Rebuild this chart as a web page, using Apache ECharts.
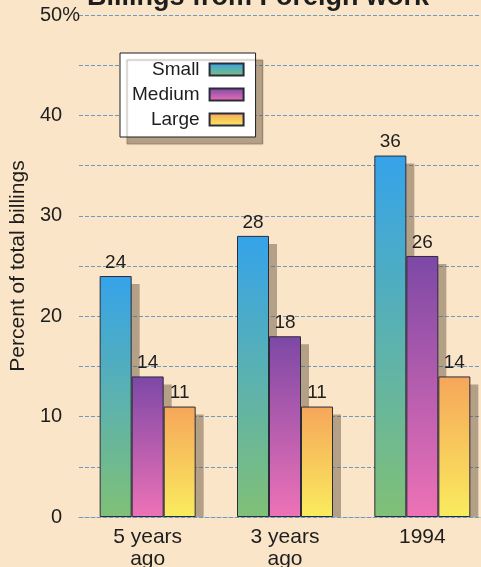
<!DOCTYPE html>
<html>
<head>
<meta charset="utf-8">
<script src="https://cdn.jsdelivr.net/npm/echarts@6/dist/echarts.min.js"></script>
<style>
  html, body { margin: 0; padding: 0; background: #fbe5c8; }
  #chart { width: 481px; height: 567px; }
</style>
</head>
<body>
<div id="chart"></div>
<script>
var categories = ['5 years\nago', '3 years\nago', '1994'];
var smallData = [24, 28, 36];
var mediumData = [14, 18, 26];
var largeData = [11, 11, 14];
var seriesNames = ['Small', 'Medium', 'Large'];

var font = 'Liberation Sans, Arial, Helvetica, sans-serif';
var BAR_W = 32;

function grad(top, bottom) {
  return new echarts.graphic.LinearGradient(0, 0, 0, 1, [
    { offset: 0, color: top },
    { offset: 1, color: bottom }
  ]);
}

function barSeries(name, data, top, bottom) {
  return {
    name: name,
    type: 'bar',
    data: data,
    z: 3,
    barWidth: BAR_W,
    barGap: '0%',
    itemStyle: {
      color: grad(top, bottom),
      borderColor: '#2b2b3a',
      borderWidth: 1
    },
    label: {
      show: true,
      position: 'top',
      distance: 4,
      fontSize: 19,
      fontFamily: font,
      color: '#1e1e1e'
    }
  };
}

// drop shadow behind each bar, placed from the same axis scales
function shadowSeries(data, k) {
  return {
    type: 'custom',
    z: 1,
    silent: true,
    data: data.map(function (v, i) { return [i, v]; }),
    renderItem: function (params, api) {
      var top = api.coord([api.value(0), api.value(1)]);
      var base = api.coord([api.value(0), 0]);
      var x = top[0] + (k - 1) * BAR_W - BAR_W / 2 + 8;
      return {
        type: 'rect',
        shape: { x: x, y: top[1] + 8, width: BAR_W, height: base[1] - top[1] - 8 },
        style: { fill: 'rgba(110,90,70,0.5)' }
      };
    }
  };
}

var chart = echarts.init(document.getElementById('chart'));
var option = {
  backgroundColor: '#fbe5c8',
  animation: false,
  title: {
    text: 'Billings from Foreign work',
    left: 87,
    top: -16,
    padding: 0,
    textStyle: { fontSize: 27, fontWeight: 'bold', fontFamily: font, color: '#1e1e1e' }
  },
  legend: {
    orient: 'vertical',
    align: 'right',
    left: 120,
    top: 53,
    padding: [7, 11, 8, 12],
    itemWidth: 34,
    itemHeight: 12,
    itemGap: 6,
    icon: 'rect',
    backgroundColor: '#ffffff',
    borderColor: '#1e1e1e',
    borderWidth: 1,
    shadowColor: 'rgba(110,90,70,0.5)',
    shadowBlur: 1,
    shadowOffsetX: 7,
    shadowOffsetY: 7,
    data: seriesNames,
    textStyle: { fontSize: 19, fontFamily: font, color: '#1e1e1e', padding: [0, 5, 0, 0] }
  },
  grid: { left: 79, right: -10, top: 15, bottom: 50, outerBoundsMode: 'none' },
  xAxis: {
    type: 'category',
    data: categories,
    axisLine: { show: true, lineStyle: { color: '#6b9cc0', type: 'dashed', width: 1 } },
    axisTick: { show: false },
    axisLabel: { fontSize: 21, fontFamily: font, color: '#1e1e1e', lineHeight: 22, margin: 9 }
  },
  yAxis: {
    type: 'value',
    min: 0,
    max: 50,
    interval: 5,
    name: 'Percent of total billings',
    nameLocation: 'middle',
    nameGap: 49,
    nameTextStyle: { fontSize: 21, fontFamily: font, color: '#1e1e1e' },
    axisLine: { show: false },
    axisTick: { show: false },
    splitLine: { lineStyle: { color: '#6b9cc0', type: 'dashed', width: 1 } },
    axisLabel: {
      margin: -1,
      fontSize: 20,
      fontFamily: font,
      color: '#1e1e1e',
      formatter: function (v) {
        if (v % 10 !== 0) return '';
        return v === 50 ? v + '%' : v + '{h|%}';
      },
      rich: { h: { fontSize: 20, fontFamily: font, color: 'rgba(0,0,0,0)' } }
    }
  },
  series: [
    shadowSeries(smallData, 0),
    shadowSeries(mediumData, 1),
    shadowSeries(largeData, 2),
    barSeries('Small', smallData, '#35a3ea', '#80c076'),
    barSeries('Medium', mediumData, '#7c48a6', '#ee72b6'),
    barSeries('Large', largeData, '#f6a65a', '#faec5e')
  ]
};
chart.setOption(option);
</script>
</body>
</html>
